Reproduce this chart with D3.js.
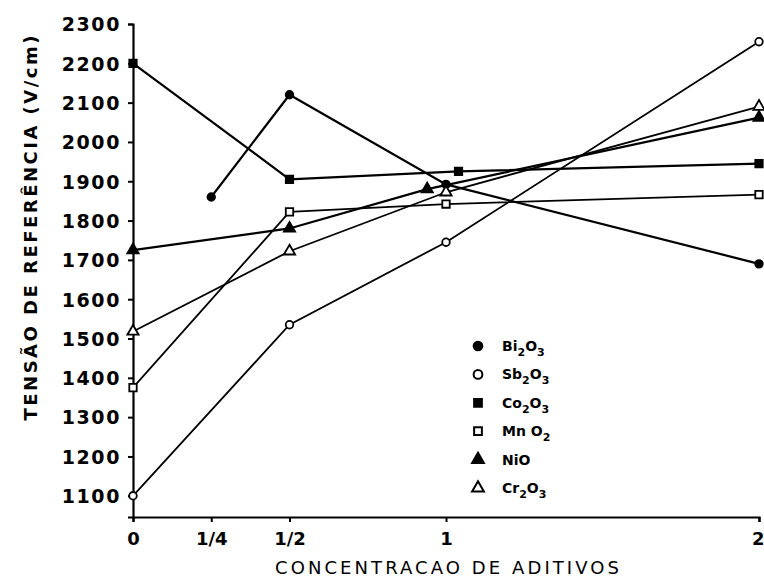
<!DOCTYPE html>
<html>
<head>
<meta charset="utf-8">
<script src="https://cdn.jsdelivr.net/npm/d3@7"></script>
<style>
  body { margin: 0; background: #fff; }
  svg text { font-family: "DejaVu Sans", sans-serif; fill: #000; }
</style>
</head>
<body>
<div class="canvas"></div>
<script>
// x positions (concentration) and tick labels
const xTicks = [0, 0.25, 0.5, 1, 2];
const xTickLabels = ["0", "1/4", "1/2", "1", "2"];
const yTicks = d3.range(1100, 2301, 100);

// series values
const bi2o3 = [{x: 0.25, y: 1860}, {x: 0.5, y: 2120}, {x: 1, y: 1892}, {x: 2, y: 1690}];
const sb2o3 = [{x: 0, y: 1100}, {x: 0.5, y: 1535}, {x: 1, y: 1745}, {x: 2, y: 2255}];
const co2o3 = [{x: 0, y: 2200}, {x: 0.5, y: 1905}, {x: 1.04, y: 1925}, {x: 2, y: 1945}];
const mno2  = [{x: 0, y: 1375}, {x: 0.5, y: 1822}, {x: 1, y: 1842}, {x: 2, y: 1866}];
const nio   = [{x: 0, y: 1725}, {x: 0.5, y: 1780}, {x: 0.94, y: 1880}, {x: 2, y: 2062}];
const cr2o3 = [{x: 0, y: 1518}, {x: 0.5, y: 1722}, {x: 1, y: 1872}, {x: 2, y: 2090}];

const series = [
  {name: "Bi", sub: "2", rest: "O", sub2: "3", data: bi2o3, symbol: d3.symbolCircle, filled: true},
  {name: "Sb", sub: "2", rest: "O", sub2: "3", data: sb2o3, symbol: d3.symbolCircle, filled: false},
  {name: "Co", sub: "2", rest: "O", sub2: "3", data: co2o3, symbol: d3.symbolSquare, filled: true},
  {name: "Mn ", sub: "", rest: "O", sub2: "2", data: mno2, symbol: d3.symbolSquare, filled: false},
  {name: "NiO", sub: "", rest: "", sub2: "", data: nio, symbol: d3.symbolTriangle, filled: true},
  {name: "Cr", sub: "2", rest: "O", sub2: "3", data: cr2o3, symbol: d3.symbolTriangle, filled: false}
];

const width = 764, height = 578;

const svg = d3.select('.canvas')
  .append('svg')
    .attr('width', width)
    .attr('height', height);

const x = d3.scaleLinear().domain([0, 2]).range([133, 759]);
const y = d3.scaleLinear().domain([1046, 2300]).range([517, 24]);

// axes
const xAxis = d3.axisBottom(x)
  .tickValues(xTicks)
  .tickFormat((d, i) => xTickLabels[i])
  .tickSizeOuter(0)
  .tickSize(5)
  .tickPadding(10);

const yAxis = d3.axisLeft(y)
  .tickValues(yTicks)
  .tickFormat(d3.format("d"))
  .tickSizeOuter(0)
  .tickSize(5)
  .tickPadding(7);

const xAxisGroup = svg.append('g')
  .attr('transform', `translate(0, ${y(1046)})`)
  .call(xAxis);

const yAxisGroup = svg.append('g')
  .attr('transform', `translate(${x(0)}, 0)`)
  .call(yAxis);

[xAxisGroup, yAxisGroup].forEach(g => {
  g.select('.domain').attr('stroke', '#000').attr('stroke-width', 2.2);
  g.selectAll('.tick line').attr('stroke', '#000').attr('stroke-width', 2);
  g.selectAll('.tick text')
    .style('font-family', '"DejaVu Sans", sans-serif')
    .style('font-weight', 'bold')
    .style('font-size', '19px')
    .attr('fill', '#000');
});
xAxisGroup.selectAll('.tick text').style('font-size', '18px');
yAxisGroup.selectAll('.tick text')
  .attr('dy', '0.36em')
  .style('letter-spacing', '1.6px');
// keep the last x label inside the picture
xAxisGroup.selectAll('.tick text')
  .filter(d => d === 2)
  .attr('text-anchor', 'end')
  .attr('dx', 5);

// lines
const line = d3.line()
  .x(d => x(d.x))
  .y(d => y(d.y));

series.forEach(s => {
  svg.append('path')
    .datum(s.data)
    .attr('fill', 'none')
    .attr('stroke', '#000')
    .attr('stroke-width', s.filled ? 2.2 : 1.8)
    .attr('d', line);
});

// markers
series.forEach(s => {
  svg.selectAll(null)
    .data(s.data)
    .enter()
    .append('path')
      .attr('transform', d => `translate(${x(d.x)}, ${y(d.y)})`)
      .attr('d', d3.symbol().type(s.symbol).size(s.symbol === d3.symbolCircle ? 45 : 55))
      .attr('fill', s.filled ? '#000' : '#fff')
      .attr('stroke', '#000')
      .attr('stroke-width', 1.8);
});

// legend
const legend = svg.selectAll('.legend')
  .data(series)
  .enter()
  .append('g')
    .attr('class', 'legend')
    .attr('transform', (d, i) => `translate(478, ${346 + i * 28.4})`);

legend.append('path')
  .attr('d', d => d3.symbol().type(d.symbol).size(60)())
  .attr('fill', d => d.filled ? '#000' : '#fff')
  .attr('stroke', '#000')
  .attr('stroke-width', 2);

const lt = legend.append('text')
  .attr('x', 24)
  .attr('y', 5)
  .style('font-size', '14px')
  .style('font-weight', 'bold');

lt.each(function(d) {
  const t = d3.select(this);
  t.append('tspan').text(d.name);
  if (d.sub) t.append('tspan').attr('dy', 5).style('font-size', '11px').text(d.sub);
  if (d.rest) t.append('tspan').attr('dy', d.sub ? -5 : 0).text(d.rest);
  if (d.sub2) t.append('tspan').attr('dy', 5).style('font-size', '11px').text(d.sub2);
});

// axis titles
svg.append('text')
  .attr('x', 447)
  .attr('y', 574)
  .attr('text-anchor', 'middle')
  .attr('textLength', 344)
  .attr('lengthAdjust', 'spacing')
  .style('font-size', '18px')
  .text('CONCENTRACAO DE ADITIVOS');

svg.append('text')
  .attr('transform', 'translate(37, 228) rotate(-90)')
  .attr('text-anchor', 'middle')
  .attr('textLength', 385)
  .attr('lengthAdjust', 'spacing')
  .style('font-size', '18px')
  .style('font-weight', 'bold')
  .text('TENSÃO DE REFERÊNCIA (V/cm)');
</script>
</body>
</html>
